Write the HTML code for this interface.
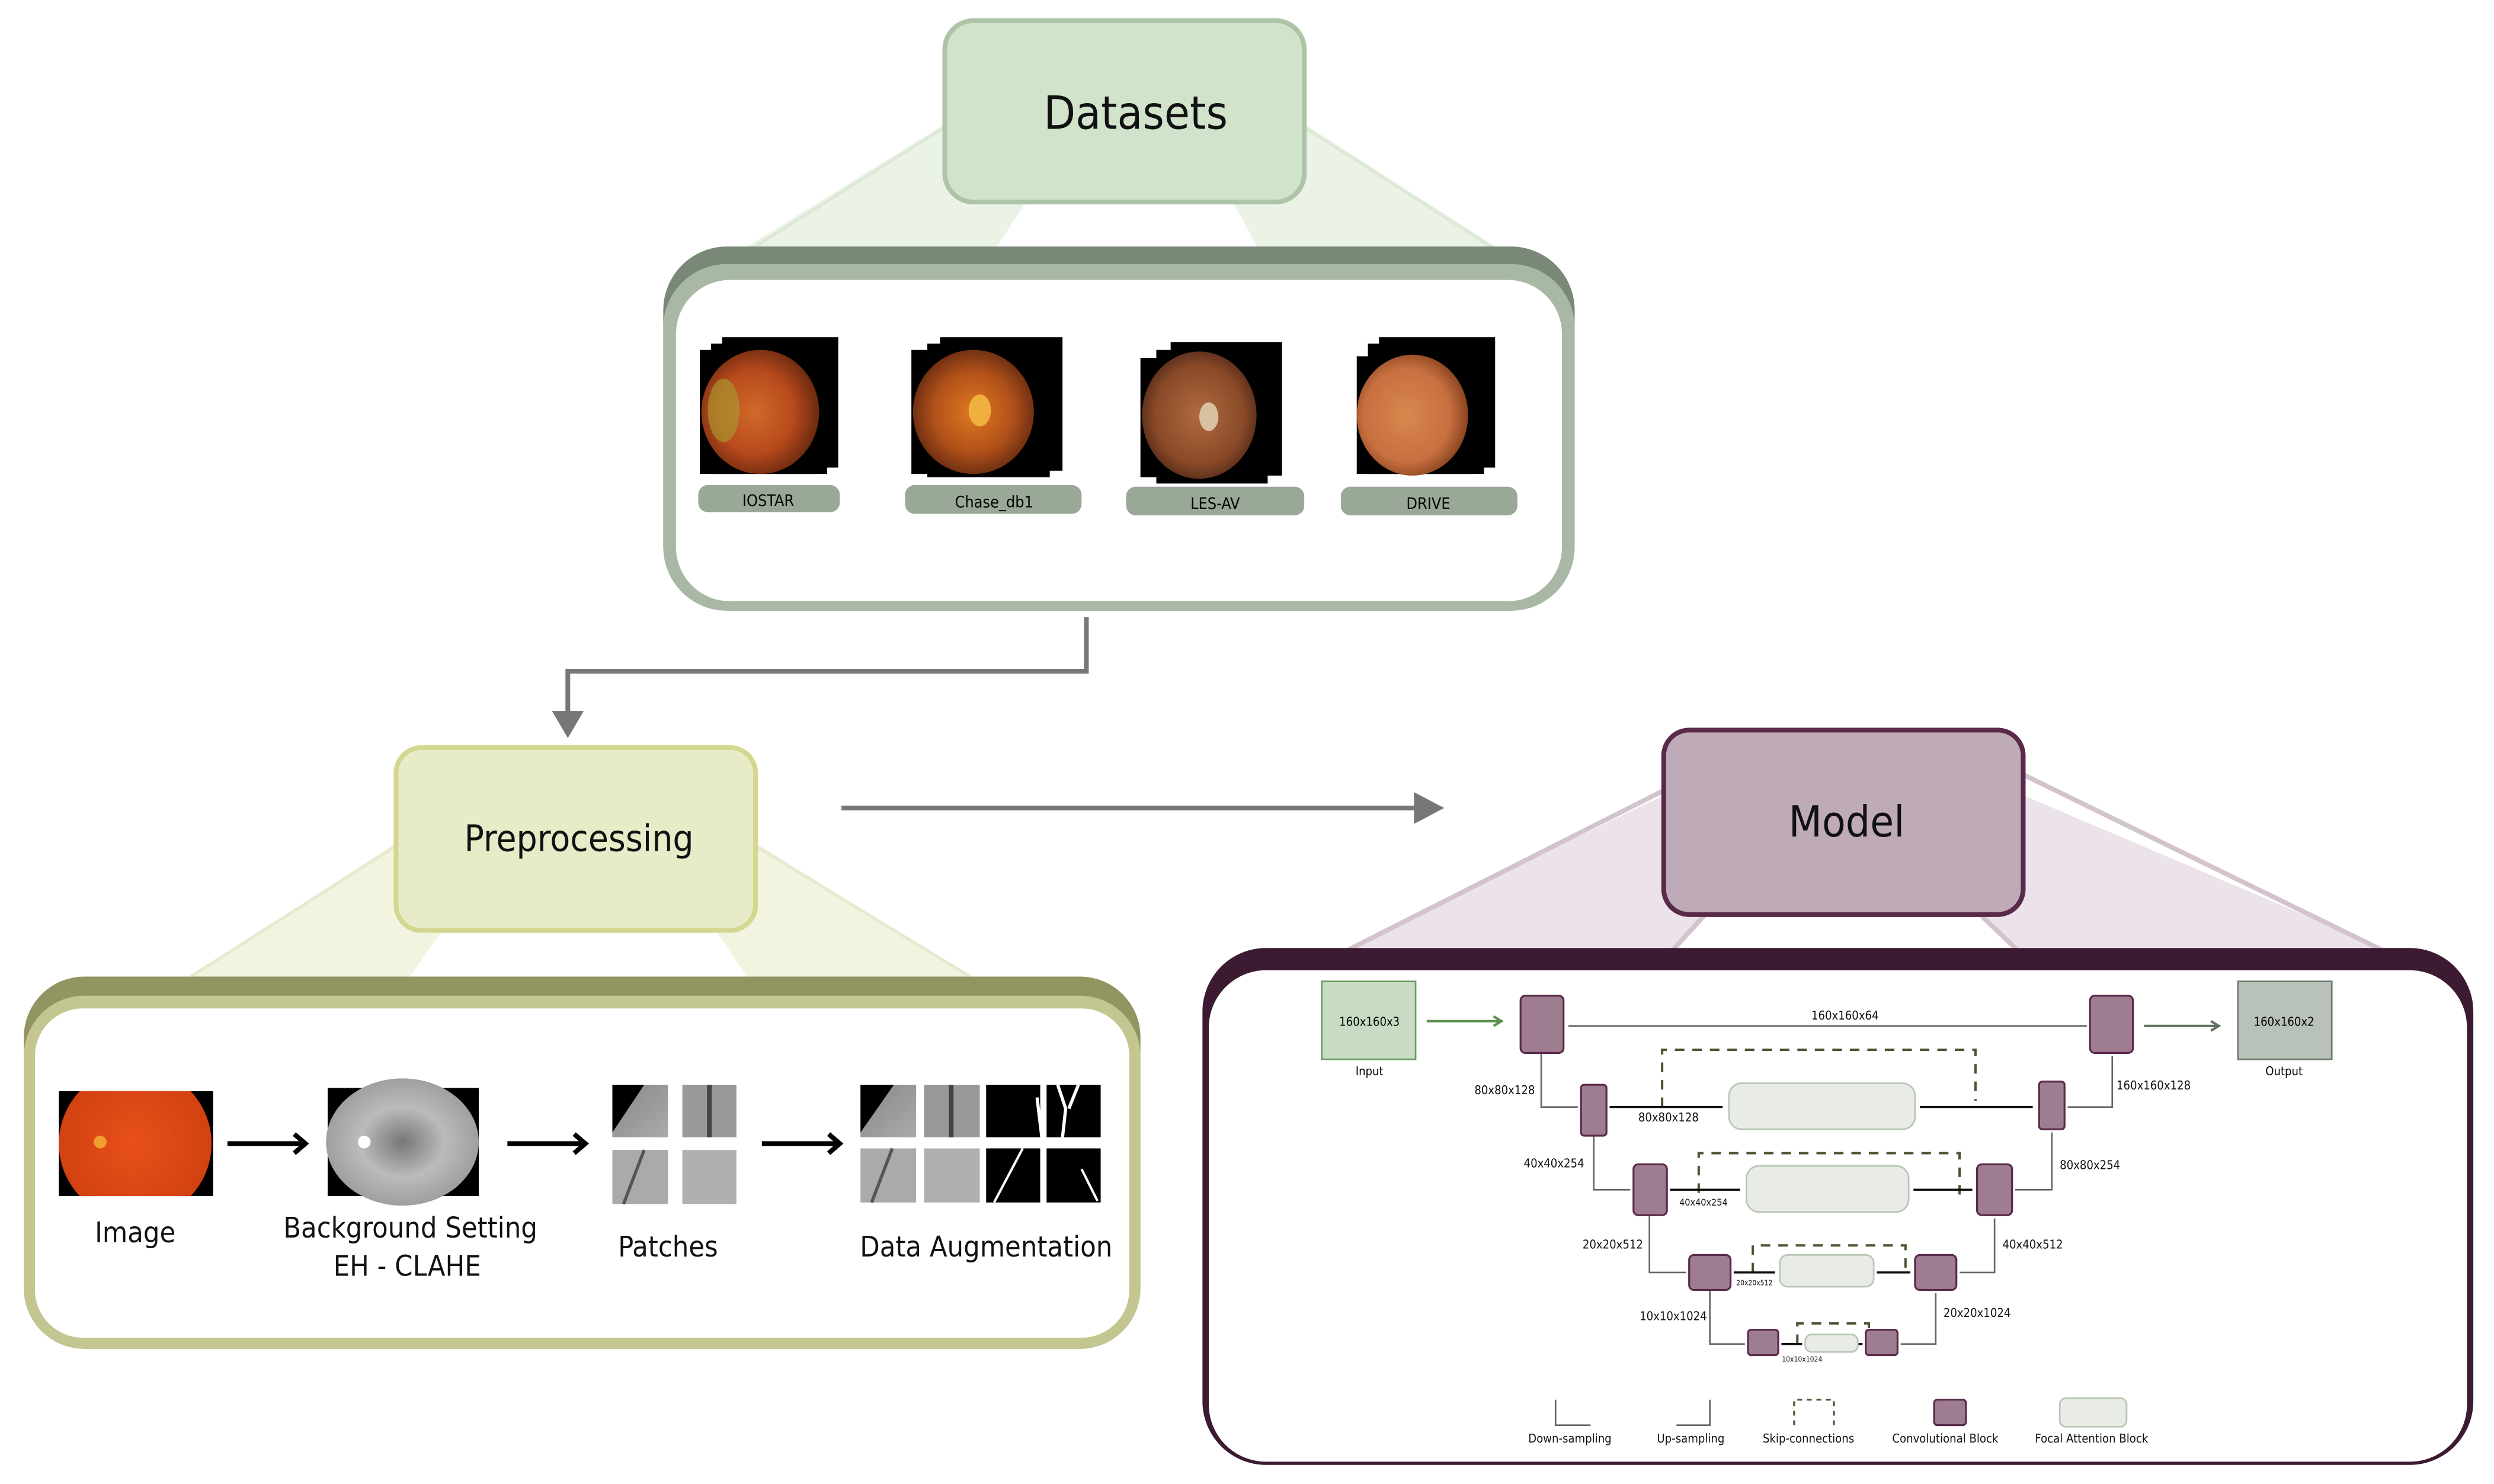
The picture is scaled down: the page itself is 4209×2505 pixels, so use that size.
<!DOCTYPE html>
<html><head><meta charset="utf-8"><style>
html,body{margin:0;padding:0;background:#fff;width:4209px;height:2505px;overflow:hidden}
svg{display:block}
text{font-family:"DejaVu Sans","Liberation Sans",sans-serif;font-stretch:condensed}
</style></head><body>
<svg width="4209" height="2505" viewBox="0 0 1568 933" preserveAspectRatio="none" xmlns="http://www.w3.org/2000/svg">
<defs>
<radialGradient id="f1" cx="0.45" cy="0.5" r="0.55"><stop offset="0" stop-color="#d06a2a"/><stop offset="0.6" stop-color="#b84a1c"/><stop offset="1" stop-color="#6a2a10"/></radialGradient>
<radialGradient id="f2" cx="0.5" cy="0.5" r="0.55"><stop offset="0" stop-color="#e07a20"/><stop offset="0.6" stop-color="#b0501a"/><stop offset="1" stop-color="#602810"/></radialGradient>
<radialGradient id="f3" cx="0.5" cy="0.5" r="0.55"><stop offset="0" stop-color="#b06a40"/><stop offset="0.7" stop-color="#8a4a28"/><stop offset="1" stop-color="#502818"/></radialGradient>
<radialGradient id="f4" cx="0.45" cy="0.5" r="0.55"><stop offset="0" stop-color="#d8874e"/><stop offset="0.7" stop-color="#c87040"/><stop offset="1" stop-color="#8a4420"/></radialGradient>
<radialGradient id="f5" cx="0.5" cy="0.5" r="0.55"><stop offset="0" stop-color="#e8501a"/><stop offset="1" stop-color="#d04010"/></radialGradient>
<radialGradient id="g1" cx="0.5" cy="0.5" r="0.55"><stop offset="0" stop-color="#777"/><stop offset="0.5" stop-color="#bbb"/><stop offset="1" stop-color="#999"/></radialGradient>
<linearGradient id="pt" x1="0" y1="0" x2="1" y2="1"><stop offset="0" stop-color="#888"/><stop offset="1" stop-color="#aaa"/></linearGradient>
</defs>

<!-- Datasets fan -->
<polygon points="594,78 820,78 945,158 465,158" fill="#ebf3e7"/>
<polygon points="645,127 775,127 792,158 625,158" fill="#fff"/>
<line x1="594" y1="80" x2="470" y2="158" stroke="#dde9d7" stroke-width="2"/>
<line x1="820" y1="80" x2="942" y2="158" stroke="#dde9d7" stroke-width="2"/>
<rect x="594" y="13" width="226" height="114" rx="18" fill="#d2e3cc" stroke="#aec4a6" stroke-width="3"/>
<text x="714" y="81" font-size="29" text-anchor="middle" fill="#111">Datasets</text>

<!-- Datasets panel -->
<rect x="417" y="155" width="573" height="228" rx="40" fill="#7a8878"/>
<rect x="417" y="166" width="573" height="218" rx="40" fill="#a9b8a4"/>
<rect x="425" y="176" width="557" height="202" rx="34" fill="#fff"/>

<!-- IOSTAR -->
<rect x="454" y="212" width="73" height="82" fill="#000"/>
<rect x="447" y="216" width="73" height="82" fill="#000"/>
<rect x="440" y="220" width="74" height="78" fill="#000"/>
<ellipse cx="478" cy="259" rx="37" ry="39" fill="url(#f1)"/>
<ellipse cx="455" cy="258" rx="10" ry="20" fill="#a8a030" opacity="0.6"/>
<rect x="439" y="305" width="89" height="17" rx="6" fill="#9aa898"/>
<text x="483" y="318" font-size="10" text-anchor="middle">IOSTAR</text>
<!-- Chase -->
<rect x="591" y="212" width="77" height="84" fill="#000"/>
<rect x="583" y="216" width="77" height="84" fill="#000"/>
<rect x="573" y="220" width="78" height="78" fill="#000"/>
<ellipse cx="612" cy="259" rx="38" ry="39" fill="url(#f2)"/>
<ellipse cx="616" cy="258" rx="7" ry="10" fill="#f0b040"/>
<rect x="569" y="305" width="111" height="18" rx="6" fill="#9aa898"/>
<text x="625" y="319" font-size="10" text-anchor="middle">Chase_db1</text>
<!-- LES-AV -->
<rect x="736" y="215" width="70" height="84" fill="#000"/>
<rect x="727" y="220" width="70" height="84" fill="#000"/>
<rect x="717" y="225" width="73" height="75" fill="#000"/>
<ellipse cx="754" cy="261" rx="36" ry="40" fill="url(#f3)"/>
<ellipse cx="760" cy="262" rx="6" ry="9" fill="#d8c0a0"/>
<rect x="708" y="306" width="112" height="18" rx="6" fill="#9aa898"/>
<text x="764" y="320" font-size="10" text-anchor="middle">LES-AV</text>
<!-- DRIVE -->
<rect x="867" y="212" width="73" height="82" fill="#000"/>
<rect x="860" y="216" width="73" height="82" fill="#000"/>
<rect x="853" y="224" width="74" height="74" fill="#000"/>
<ellipse cx="888" cy="261" rx="35" ry="38" fill="url(#f4)"/>
<rect x="843" y="306" width="111" height="18" rx="6" fill="#9aa898"/>
<text x="898" y="320" font-size="10" text-anchor="middle">DRIVE</text>

<!-- connector Datasets -> Preprocessing -->
<polyline points="683,388 683,422 357,422 357,450" fill="none" stroke="#777" stroke-width="3"/>
<polygon points="347,447 367,447 357,464" fill="#777"/>

<!-- Preprocessing fan -->
<polygon points="249,530 475,530 612,615 118,615" fill="#f3f4df"/>
<polygon points="278,585 450,585 470,615 257,615" fill="#fff"/>
<line x1="249" y1="532" x2="120" y2="614" stroke="#e7ead0" stroke-width="2"/>
<line x1="475" y1="532" x2="610" y2="614" stroke="#e7ead0" stroke-width="2"/>
<rect x="249" y="470" width="226" height="115" rx="16" fill="#e8ebc8" stroke="#d3d78f" stroke-width="3"/>
<text x="364" y="535" font-size="23" text-anchor="middle" fill="#111">Preprocessing</text>

<!-- Horizontal arrow -->
<line x1="529" y1="508" x2="890" y2="508" stroke="#777" stroke-width="3"/>
<polygon points="889,498 908,508 889,518" fill="#777"/>

<!-- Preprocessing panel -->
<rect x="15" y="614" width="702" height="234" rx="38" fill="#929462"/>
<rect x="15" y="626" width="702" height="222" rx="38" fill="#c4c691"/>
<rect x="22" y="634" width="688" height="207" rx="30" fill="#fff"/>

<rect x="37" y="686" width="97" height="66" fill="#000"/>
<ellipse cx="85" cy="719" rx="48" ry="48" fill="url(#f5)"/>
<rect x="37" y="667" width="97" height="19" fill="#fff"/>
<rect x="37" y="752" width="97" height="16" fill="#fff"/>
<circle cx="63" cy="718" r="4" fill="#f0a030"/>
<rect x="206" y="684" width="95" height="68" fill="#000"/>
<ellipse cx="253" cy="718" rx="48" ry="40" fill="url(#g1)"/>
<circle cx="229" cy="718" r="4" fill="#fff"/>

<g stroke="#000" stroke-width="3" fill="none">
<line x1="143" y1="719" x2="190" y2="719"/><polyline points="185,713 192,719 185,725"/>
<line x1="319" y1="719" x2="366" y2="719"/><polyline points="361,713 368,719 361,725"/>
<line x1="479" y1="719" x2="526" y2="719"/><polyline points="521,713 528,719 521,725"/>
</g>

<!-- patches -->
<rect x="385" y="682" width="35" height="33" fill="url(#pt)"/><polygon points="385,682 405,682 385,712" fill="#000"/>
<rect x="429" y="682" width="34" height="33" fill="#999"/><line x1="446" y1="682" x2="446" y2="715" stroke="#444" stroke-width="3"/>
<rect x="385" y="723" width="35" height="34" fill="#aaa"/><line x1="405" y1="723" x2="392" y2="757" stroke="#555" stroke-width="2"/>
<rect x="429" y="723" width="34" height="34" fill="#b0b0b0"/>

<rect x="541" y="682" width="35" height="33" fill="url(#pt)"/><polygon points="541,682 562,682 541,712" fill="#000"/>
<rect x="581" y="682" width="35" height="33" fill="#999"/><line x1="598" y1="682" x2="598" y2="715" stroke="#444" stroke-width="3"/>
<rect x="620" y="682" width="34" height="33" fill="#000"/><rect x="658" y="682" width="34" height="33" fill="#000"/>
<path d="M652 690 L655 715 M665 682 L670 697 L668 715 M678 682 L672 697" stroke="#fff" stroke-width="2" fill="none"/>
<rect x="541" y="722" width="35" height="34" fill="#aaa"/><line x1="561" y1="722" x2="548" y2="756" stroke="#555" stroke-width="2"/>
<rect x="581" y="722" width="35" height="34" fill="#b0b0b0"/>
<rect x="620" y="722" width="34" height="34" fill="#000"/><rect x="658" y="722" width="34" height="34" fill="#000"/>
<path d="M643 722 L625 756 M680 735 L685 745 L690 755" stroke="#fff" stroke-width="1.5" fill="none"/>

<g font-size="18" fill="#111" text-anchor="middle">
<text x="85" y="781">Image</text>
<text x="258" y="778">Background Setting</text>
<text x="256" y="802">EH - CLAHE</text>
<text x="420" y="790">Patches</text>
<text x="620" y="790">Data Augmentation</text>
</g>

<!-- Model fan -->
<polygon points="1046,500 1272,500 1500,597 845,597" fill="#ebe3e9"/>
<polygon points="1072,575 1245,575 1270,597 1050,597" fill="#fff"/>
<line x1="1046" y1="497" x2="848" y2="597" stroke="#d2c3cd" stroke-width="3"/>
<line x1="1272" y1="487" x2="1497" y2="597" stroke="#d2c3cd" stroke-width="3"/>
<line x1="1072" y1="575" x2="1052" y2="597" stroke="#d2c3cd" stroke-width="3"/>
<line x1="1245" y1="575" x2="1268" y2="597" stroke="#d2c3cd" stroke-width="3"/>
<rect x="1046" y="459" width="226" height="116" rx="16" fill="#bfaab7" stroke="#5a2a4a" stroke-width="3"/>
<text x="1161" y="526" font-size="27" text-anchor="middle" fill="#111">Model</text>

<!-- Model panel -->
<rect x="756" y="596" width="799" height="325" rx="40" fill="#3c1a32"/>
<rect x="760" y="610" width="791" height="309" rx="36" fill="#fff"/>

<!-- U-Net -->
<rect x="831" y="617" width="59" height="49" fill="#c8dcc4" stroke="#6a9a60" stroke-width="1"/>
<text x="861" y="645" font-size="7.5" text-anchor="middle">160x160x3</text>
<text x="861" y="676" font-size="7.5" text-anchor="middle">Input</text>
<rect x="1407" y="617" width="59" height="49" fill="#b9c2b8" stroke="#707a70" stroke-width="1"/>
<text x="1436" y="645" font-size="7.5" text-anchor="middle">160x160x2</text>
<text x="1436" y="676" font-size="7.5" text-anchor="middle">Output</text>
<line x1="897" y1="642" x2="943" y2="642" stroke="#5a9050" stroke-width="1.5"/><polyline points="939,639 944,642 939,645" fill="none" stroke="#5a9050" stroke-width="1.5"/>
<line x1="1348" y1="645" x2="1394" y2="645" stroke="#607060" stroke-width="1.5"/><polyline points="1390,642 1395,645 1390,648" fill="none" stroke="#607060" stroke-width="1.5"/>

<!-- skip dashed -->
<g fill="none" stroke="#4a5530" stroke-width="1.5" stroke-dasharray="6,5">
<polyline points="1045,696 1045,660 1242,660 1242,692"/>
<polyline points="1068,750 1068,725 1232,725 1232,755"/>
<polyline points="1102,800 1102,783 1198,783 1198,797"/>
<polyline points="1130,845 1130,832 1175,832 1175,845"/>
</g>

<!-- grey connectors -->
<g fill="none" stroke="#666" stroke-width="1">
<line x1="986" y1="645" x2="1312" y2="645"/>
<polyline points="969,662 969,696 992,696"/>
<polyline points="1002,714 1002,748 1025,748"/>
<polyline points="1037,764 1037,800 1060,800"/>
<polyline points="1075,811 1075,845 1097,845"/>
<polyline points="1195,845 1217,845 1217,813"/>
<polyline points="1232,800 1254,800 1254,766"/>
<polyline points="1267,748 1290,748 1290,712"/>
<polyline points="1300,696 1328,696 1328,664"/>
</g>
<g fill="none" stroke="#111" stroke-width="1.3">
<line x1="1012" y1="696" x2="1083" y2="696"/>
<line x1="1207" y1="696" x2="1278" y2="696"/>
<line x1="1050" y1="748" x2="1094" y2="748"/>
<line x1="1203" y1="748" x2="1240" y2="748"/>
<line x1="1090" y1="800" x2="1116" y2="800"/>
<line x1="1180" y1="800" x2="1201" y2="800"/>
<line x1="1120" y1="845" x2="1133" y2="845"/>
<line x1="1164" y1="845" x2="1171" y2="845"/>
</g>

<g fill="#e8ebe6" stroke="#b8c6b4" stroke-width="1">
<rect x="1087" y="681" width="117" height="29" rx="8"/>
<rect x="1098" y="733" width="102" height="29" rx="8"/>
<rect x="1119" y="789" width="59" height="20" rx="5"/>
<rect x="1135" y="839" width="33" height="11" rx="4"/>
</g>

<g fill="#9e7d90" stroke="#5a2a4a" stroke-width="1.2">
<rect x="956" y="626" width="27" height="36" rx="3"/>
<rect x="994" y="682" width="16" height="32" rx="2"/>
<rect x="1027" y="732" width="21" height="32" rx="3"/>
<rect x="1062" y="789" width="26" height="22" rx="3"/>
<rect x="1099" y="836" width="19" height="16" rx="2"/>
<rect x="1173" y="836" width="20" height="16" rx="2"/>
<rect x="1204" y="789" width="26" height="22" rx="3"/>
<rect x="1243" y="732" width="22" height="32" rx="3"/>
<rect x="1282" y="680" width="16" height="30" rx="2"/>
<rect x="1314" y="626" width="27" height="36" rx="3"/>
</g>

<g font-size="7.5" fill="#111" text-anchor="middle">
<text x="1160" y="641">160x160x64</text>
<text x="946" y="688">80x80x128</text>
<text x="1049" y="705">80x80x128</text>
<text x="977" y="734">40x40x254</text>
<text x="1071" y="758" font-size="6">40x40x254</text>
<text x="1014" y="785">20x20x512</text>
<text x="1103" y="808" font-size="4.5">20x20x512</text>
<text x="1052" y="830">10x10x1024</text>
<text x="1133" y="856" font-size="4.5">10x10x1024</text>
<text x="1354" y="685">160x160x128</text>
<text x="1314" y="735">80x80x254</text>
<text x="1278" y="785">40x40x512</text>
<text x="1243" y="828">20x20x1024</text>
</g>

<!-- legend -->
<polyline points="978,880 978,896 1000,896" fill="none" stroke="#666" stroke-width="1"/>
<polyline points="1054,896 1075,896 1075,880" fill="none" stroke="#666" stroke-width="1"/>
<polyline points="1128,896 1128,880 1153,880 1153,896" fill="none" stroke="#4a5530" stroke-width="1.2" stroke-dasharray="3,3"/>
<rect x="1216" y="880" width="20" height="16" rx="2" fill="#9e7d90" stroke="#5a2a4a" stroke-width="1.2"/>
<rect x="1295" y="879" width="42" height="18" rx="4" fill="#e8ebe6" stroke="#b8c6b4" stroke-width="1"/>
<g font-size="7.5" fill="#111" text-anchor="middle">
<text x="987" y="907">Down-sampling</text>
<text x="1063" y="907">Up-sampling</text>
<text x="1137" y="907">Skip-connections</text>
<text x="1223" y="907">Convolutional Block</text>
<text x="1315" y="907">Focal Attention Block</text>
</g>
</svg>
</body></html>
